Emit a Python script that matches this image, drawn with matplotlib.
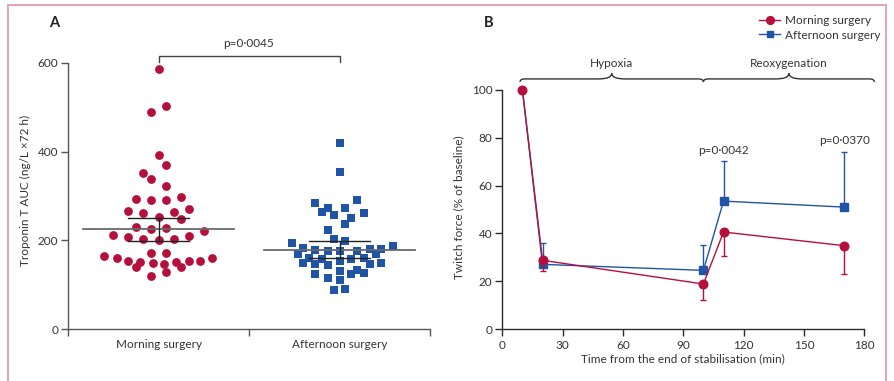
import numpy as np
import matplotlib
matplotlib.use("Agg")
import matplotlib.pyplot as plt
from matplotlib.path import Path
from matplotlib.patches import PathPatch
from matplotlib.lines import Line2D

plt.rcParams['font.family'] = ['Lato', 'DejaVu Sans']

# ---------------- data: panel A ----------------
groups = ["Morning surgery", "Afternoon surgery"]
morning_auc = [585, 502, 489, 392, 369, 351, 338, 323, 298, 293, 290, 292, 267, 271, 262, 263,
               252, 248, 231, 226, 229, 221, 213, 208, 211, 203, 201, 204, 171, 171, 166, 161,
               161, 154, 154, 154, 151, 149, 151, 140, 146, 141, 129, 119]
morning_offset = [0, 0.041, -0.041, 0, 0.041, -0.083, -0.041, 0.041, 0.125, -0.125, -0.041, 0.041,
                  -0.166, 0.166, -0.083, 0.083, 0, 0.125, -0.125, -0.041, 0.041, 0.249, -0.249,
                  -0.166, 0.166, -0.083, 0, 0.083, -0.041, 0.041, -0.299, -0.232, 0.298, -0.166,
                  0.166, 0.232, -0.101, -0.033, 0.099, -0.125, 0.033, 0.125, 0.041, -0.041]
afternoon_auc = [419, 353, 290, 284, 273, 272, 264, 261, 257, 251, 236, 223, 204, 198, 194, 187,
                 182, 180, 180, 179, 177, 176, 176, 169, 169, 161, 160, 158, 158, 154, 150, 150,
                 147, 147, 144, 133, 132, 127, 125, 124, 115, 112, 90, 88]
afternoon_offset = [0, 0, 0.099, -0.133, 0.033, -0.066, -0.099, 0.133, -0.033, 0.066, 0.033, -0.066,
                    -0.033, 0.033, -0.265, 0.298, -0.199, 0.166, 0.232, -0.133, -0.066, 0, 0.099,
                    -0.232, 0.199, 0.133, -0.166, -0.099, 0.066, 0, -0.199, 0.232, -0.133, 0.166,
                    -0.066, 0.099, 0, 0.133, -0.133, 0.066, -0.066, 0, 0.033, -0.033]
group_mean = [225, 179.5]
group_sem = [26.5, 19]
p_value_A = "p=0·0045"

# ---------------- data: panel B ----------------
time_min = [10, 20, 100, 110, 170]
morning_force = [100, 28.8, 18.9, 40.6, 34.9]
morning_sem = [0, 4.6, 6.5, 9.9, 11.9]
afternoon_force = [100, 27.1, 24.6, 53.5, 51.0]
afternoon_sem = [0, 8.9, 10.4, 16.6, 22.9]
p_labels_B = ["p=0·0042", "p=0·0370"]
p_times_B = [110, 170]
p_heights_B = [74.7, 78.7]
phase_labels = ["Hypoxia", "Reoxygenation"]
phase_bounds = [(8.8, 100), (100, 185)]

RED = "#B5103C"
BLUE = "#1F54A6"
TXT = "#333333"
AXC_A = "#555555"
AXC_B = "#2a2a2a"
FS = 8.5

W, H = 894, 381
fig = plt.figure(figsize=(W / 100, H / 100), dpi=100)

def fx(px):
    return px / W

def fy(py):
    return 1 - py / H

# ---------- pink frame ----------
PINK = "#E3A2B6"
for (x0, y0, x1, y1) in [(7.5, 5, 7.5, 381), (7.5, 5, 886, 5), (886, 5, 886, 381)]:
    fig.add_artist(Line2D([fx(x0), fx(x1)], [fy(y0), fy(y1)], color=PINK, lw=1.4,
                          transform=fig.transFigure))

# ================= Panel A =================
axA = fig.add_axes([fx(68), fy(329.3), fx(430) - fx(68), fy(62.7) - fy(329.3)])
axA.set_xlim(0, 2)
axA.set_ylim(0, 600)
for s in ["top", "right"]:
    axA.spines[s].set_visible(False)
for s in ["left", "bottom"]:
    axA.spines[s].set_color(AXC_A)
    axA.spines[s].set_linewidth(1.0)
axA.set_yticks([0, 200, 400, 600])
axA.set_xticks([0, 1, 2])
axA.set_xticklabels([])
axA.set_xticks([0.5, 1.5], minor=True)
axA.set_xticklabels(groups, minor=True)
axA.tick_params(axis='x', which='minor', length=0, pad=7, labelsize=FS, labelcolor=TXT)
axA.tick_params(axis='x', which='major', length=5, width=1, color=AXC_A)
axA.tick_params(axis='y', length=5, width=1, color=AXC_A, pad=2, labelsize=FS, labelcolor=TXT)

centers = [0.5, 1.5]
axA.scatter(np.array(morning_offset) + centers[0], morning_auc, s=40, marker='o', color=RED,
            linewidths=0, zorder=3, clip_on=False)
axA.scatter(np.array(afternoon_offset) + centers[1], afternoon_auc, s=28, marker='s', color=BLUE,
            linewidths=0, zorder=3, clip_on=False)
for c, m, se in zip(centers, group_mean, group_sem):
    axA.plot([c - 0.415, c + 0.415], [m, m], color="#6a6a6a", lw=1.3, zorder=4)
    axA.plot([c, c], [m - se, m + se], color="#222222", lw=1.0, zorder=4)
    for yy in (m - se, m + se):
        axA.plot([c - 0.166, c + 0.166], [yy, yy], color="#222222", lw=1.0, zorder=4)

# p bracket
axA.plot([centers[0], centers[0], centers[1], centers[1]], [602, 616, 616, 602],
         color="#444444", lw=1.0, clip_on=False)
axA.text(1.0, 644, p_value_A, ha='center', va='center', fontsize=FS, color=TXT)

fig.text(fx(54), fy(23), "A", fontsize=10.5, fontweight='bold', ha='center', va='center', color="#222222")
fig.text(fx(25), fy(190), "Troponin T AUC (ng/L ×72 h)", rotation=90, ha='center', va='center',
         fontsize=FS, color=TXT)

# ================= Panel B =================
axB = fig.add_axes([fx(502.3), fy(329.3), fx(864.3) - fx(502.3), fy(89.7) - fy(329.3)])
axB.set_xlim(0, 180)
axB.set_ylim(0, 100)
for s in ["top", "right"]:
    axB.spines[s].set_visible(False)
for s in ["left", "bottom"]:
    axB.spines[s].set_color(AXC_B)
    axB.spines[s].set_linewidth(1.0)
axB.set_xticks(np.arange(0, 181, 30))
axB.set_yticks(np.arange(0, 101, 20))
axB.tick_params(length=5, width=1, color=AXC_B, pad=2, labelsize=FS, labelcolor=TXT)
axB.tick_params(axis='x', pad=3)

axB.errorbar(time_min, afternoon_force, yerr=[np.zeros(len(afternoon_sem)), afternoon_sem],
             color=BLUE, marker='s', markersize=5.2, markevery=slice(1, None), lw=1.0,
             elinewidth=1.0, capsize=2.0, capthick=1.0, zorder=3, clip_on=False)
axB.errorbar(time_min, morning_force, yerr=[morning_sem, np.zeros(len(morning_sem))],
             color=RED, marker='o', markersize=6.2, lw=1.0, elinewidth=1.0, capsize=2.0,
             capthick=1.0, zorder=4, clip_on=False)

for t, h, lab in zip(p_times_B, p_heights_B, p_labels_B):
    axB.text(t, h, lab, ha='center', va='center', fontsize=FS, color=TXT)


def brace(ax, x0, x1, y, up=2.3, down=1.3, r_end=2.5, r_mid=6.5, **kw):
    xm = (x0 + x1) / 2
    verts = [(x0, y - down), (x0, y), (x0 + r_end, y),
             (xm - r_mid, y), (xm, y), (xm, y + up),
             (xm, y), (xm + r_mid, y),
             (x1 - r_end, y), (x1, y), (x1, y - down)]
    codes = [Path.MOVETO, Path.CURVE3, Path.CURVE3,
             Path.LINETO, Path.CURVE3, Path.CURVE3,
             Path.CURVE3, Path.CURVE3,
             Path.LINETO, Path.CURVE3, Path.CURVE3]
    patch = PathPatch(Path(verts, codes), fill=False, clip_on=False, **kw)
    ax.add_patch(patch)


for (b0, b1), lab in zip(phase_bounds, phase_labels):
    brace(axB, b0, b1, 104.5, lw=1.0, edgecolor="#333333")
    axB.text((b0 + b1) / 2, 110.8, lab, ha='center', va='center', fontsize=FS, color=TXT)

legend_handles = [
    Line2D([], [], color=RED, marker='o', markersize=5.6, lw=1.0),
    Line2D([], [], color=BLUE, marker='s', markersize=4.8, lw=1.0),
]
leg = axB.legend(legend_handles, groups, loc='upper left', bbox_to_anchor=(fx(759), fy(15)),
                 bbox_transform=fig.transFigure, frameon=False, fontsize=FS, handlelength=1.8,
                 handletextpad=0.4, borderpad=0, borderaxespad=0, labelspacing=0.3)
for t in leg.get_texts():
    t.set_color(TXT)

fig.text(fx(489), fy(23), "B", fontsize=10.5, fontweight='bold', ha='center', va='center', color="#222222")
fig.text(fx(459), fy(207), "Twitch force (% of baseline)", rotation=90, ha='center', va='center',
         fontsize=FS, color=TXT)
fig.text(fx(683), fy(359), "Time from the end of stabilisation (min)", ha='center', va='center',
         fontsize=FS, color=TXT)

fig.savefig("out.png", dpi=100)
